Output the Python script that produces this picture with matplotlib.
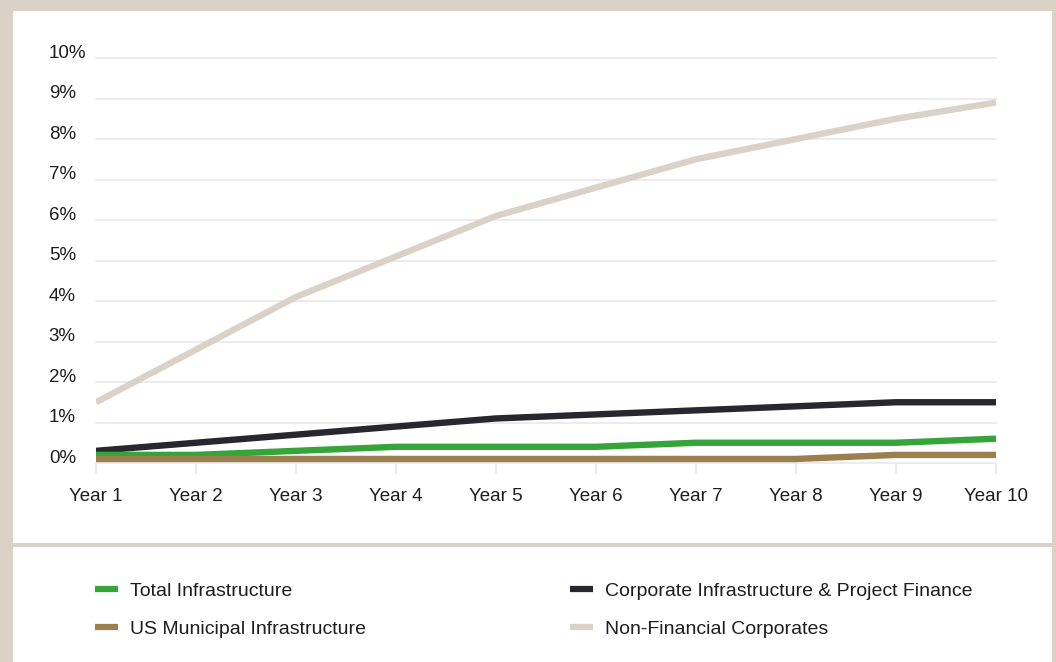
import matplotlib
matplotlib.use("Agg")
import matplotlib.pyplot as plt
import matplotlib.transforms as mtransforms
from matplotlib.patches import Rectangle
from matplotlib.lines import Line2D

plt.rcParams["font.family"] = ["Liberation Sans", "DejaVu Sans"]

# ── Data ─────────────────────────────────────────────────────────────────────
years = ["Year 1", "Year 2", "Year 3", "Year 4", "Year 5",
         "Year 6", "Year 7", "Year 8", "Year 9", "Year 10"]
total_infra = [0.2, 0.2, 0.3, 0.4, 0.4, 0.4, 0.5, 0.5, 0.5, 0.6]
corp_infra = [0.3, 0.5, 0.7, 0.9, 1.1, 1.2, 1.3, 1.4, 1.5, 1.5]
us_muni = [0.1, 0.1, 0.1, 0.1, 0.1, 0.1, 0.1, 0.1, 0.2, 0.2]
non_fin = [1.5, 2.8, 4.1, 5.1, 6.1, 6.8, 7.5, 8.0, 8.5, 8.9]

y_ticks = list(range(0, 11))
y_labels = [f"{v}%" for v in y_ticks]

series_names = ["Total Infrastructure", "US Municipal Infrastructure",
                "Corporate Infrastructure & Project Finance",
                "Non-Financial Corporates"]

GREEN = "#35a53a"
DARK = "#28262f"
BROWN = "#9b7f4f"
BEIGE = "#dbd2c7"
TEXT = "#1e1e1e"

W, H = 1056, 662
fig = plt.figure(figsize=(W / 100, H / 100), dpi=100)
fig.patch.set_facecolor(BEIGE)

# white panels (behind the axes)
fig.patches.append(Rectangle((13 / W, 1 - 543 / H), (1052 - 13) / W, (543 - 11) / H,
                             transform=fig.transFigure, facecolor="white",
                             edgecolor="none", zorder=-10))
fig.patches.append(Rectangle((13 / W, 0), (1052 - 13) / W, (H - 547) / H,
                             transform=fig.transFigure, facecolor="white",
                             edgecolor="none", zorder=-10))

ax = fig.add_axes([96 / W, 1 - 463 / H, (996 - 96) / W, (463 - 58) / H])
ax.set_facecolor("none")
ax.set_zorder(5)

x = list(range(len(years)))
lw = 4.6
ax.plot(x, non_fin, color=BEIGE, lw=lw, solid_capstyle="butt", zorder=3)
ax.plot(x, corp_infra, color=DARK, lw=lw, solid_capstyle="butt", zorder=4)
ax.plot(x, total_infra, color=GREEN, lw=lw, solid_capstyle="butt", zorder=5)
ax.plot(x, us_muni, color=BROWN, lw=lw, solid_capstyle="butt", zorder=6,
        clip_on=False)

ax.set_xlim(0, len(years) - 1)
ax.set_ylim(0, 10)
ax.set_yticks(y_ticks)
ax.set_yticklabels(y_labels)
ax.set_xticks(x)
ax.set_xticklabels(years)

ax.grid(axis="y", color="#e9e9e9", lw=1.2, zorder=1)
ax.set_axisbelow(True)
for gl in ax.get_ygridlines():
    gl.set_clip_on(False)
for s in ax.spines.values():
    s.set_visible(False)

ax.tick_params(axis="y", length=0, pad=34, labelsize=13.5, labelcolor=TEXT)
for lbl in ax.get_yticklabels():
    lbl.set_horizontalalignment("left")
    lbl.set_transform(lbl.get_transform() +
                      mtransforms.ScaledTranslation(0, 5 / 72, fig.dpi_scale_trans))
ax.tick_params(axis="x", length=8, width=1.2, color="#e6e6e6", pad=10,
               labelsize=13.5, labelcolor=TEXT)

# legend
colors = [GREEN, BROWN, DARK, BEIGE]
handles = [Line2D([0], [0], color=c, lw=4.5, solid_capstyle="butt") for c in colors]
fig.legend(handles, series_names, ncol=2, frameon=False,
           loc="upper left", bbox_to_anchor=(77 / W, 1 - 565 / H),
           fontsize=14, handlelength=1.2, handletextpad=0.6,
           columnspacing=10.5, labelspacing=1.05, labelcolor=TEXT)

fig.savefig("out.png", dpi=100, facecolor=fig.get_facecolor())
